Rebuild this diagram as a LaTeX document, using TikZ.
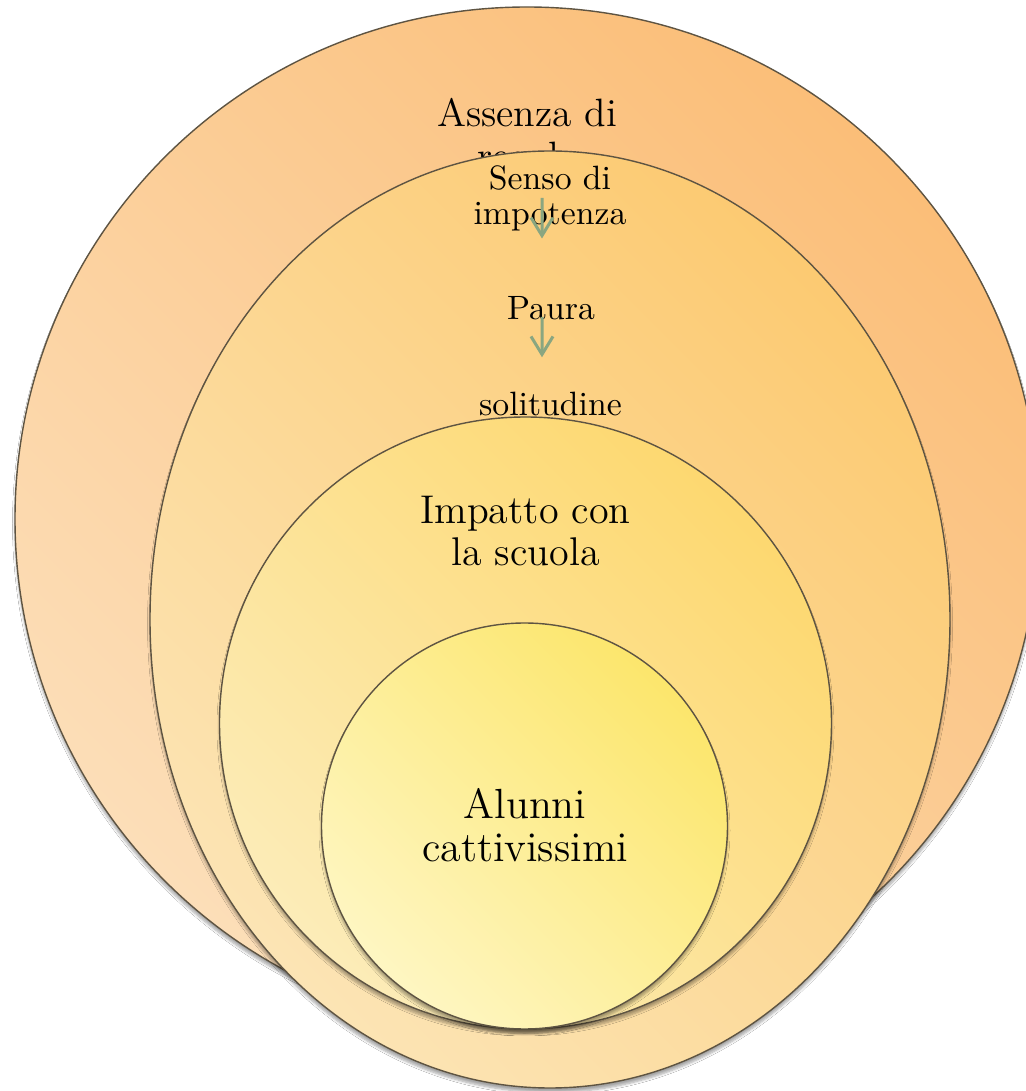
\documentclass[tikz,border=0pt]{standalone}
\usepackage{tikz}
\usetikzlibrary{arrows.meta,shadows.blur}
\definecolor{rimline}{RGB}{94,84,66}
\definecolor{flowgreen}{RGB}{138,166,128}
\definecolor{outerdark}{RGB}{251,190,120}
\definecolor{outerlight}{RGB}{252,222,184}
\definecolor{seconddark}{RGB}{252,202,114}
\definecolor{secondlight}{RGB}{252,228,180}
\definecolor{thirddark}{RGB}{253,216,112}
\definecolor{thirdlight}{RGB}{252,236,184}
\definecolor{innerdark}{RGB}{252,230,108}
\definecolor{innerlight}{RGB}{254,246,194}
\tikzset{
  rim/.style={draw=rimline, line width=0.4pt,
    blur shadow={shadow xshift=0pt, shadow yshift=-0.45mm, shadow blur radius=0.25mm,
      shadow blur steps=6, shadow opacity=35}},
  outerfill/.style={rim, top color=outerdark, bottom color=outerlight, shading angle=-45},
  secondfill/.style={rim, top color=seconddark, bottom color=secondlight, shading angle=-45},
  thirdfill/.style={rim, top color=thirddark, bottom color=thirdlight, shading angle=-45},
  innerfill/.style={rim, top color=innerdark, bottom color=innerlight, shading angle=-45},
  txt/.style={align=center, inner sep=0pt, text=black},
  smalltxt/.style={txt, font=\fontsize{9.6}{10}\selectfont},
  bigtxt/.style={txt, font=\fontsize{11.4}{12}\selectfont},
  flow/.style={draw=flowgreen, line width=0.3mm, -{Straight Barb[length=1.8mm,width=2.2mm]}}
}
\begin{document}
\begin{tikzpicture}[x=1mm,y=1mm]
  \fill[white] (0,0) rectangle (102.6,109.1);
  \useasboundingbox (0,0) rectangle (102.6,109.1);
  % outer circle
  \path[outerfill] (52.7,57.2) circle [radius=51.2];
  \node[txt, font=\fontsize{11.25}{12}\selectfont] (assenza) at (52.7,95.3) {Assenza di\\regole};
  % second ring
  \path[secondfill] (55.0,47.15) ellipse [x radius=40.0, y radius=46.85];
  \node[smalltxt] (senso) at (55.0,89.3) {Senso di\\impotenza};
  \node[smalltxt] (paura) at (55.1,78.25) {Paura};
  \node[smalltxt] (solitudine) at (55.05,68.67) {solitudine};
  \draw[flow, shorten >=7mm] ([xshift=-.8mm]senso.center) -- ([xshift=-.9mm]paura.center);
  \draw[flow, shorten <=.85mm, shorten >=4.7mm] ([xshift=-.9mm]paura.center) -- ([xshift=-.85mm]solitudine.center);
  % third ring
  \path[thirdfill] (52.55,36.8) circle [radius=30.6];
  \node[bigtxt] (impatto) at (52.55,56.0) {Impatto con\\la scuola};
  % inner circle
  \path[innerfill] (52.45,26.5) circle [radius=20.3];
  \node[txt, font=\fontsize{12}{12.3}\selectfont] (alunni) at (52.5,26.6) {Alunni\\cattivissimi};
\end{tikzpicture}
\end{document}
